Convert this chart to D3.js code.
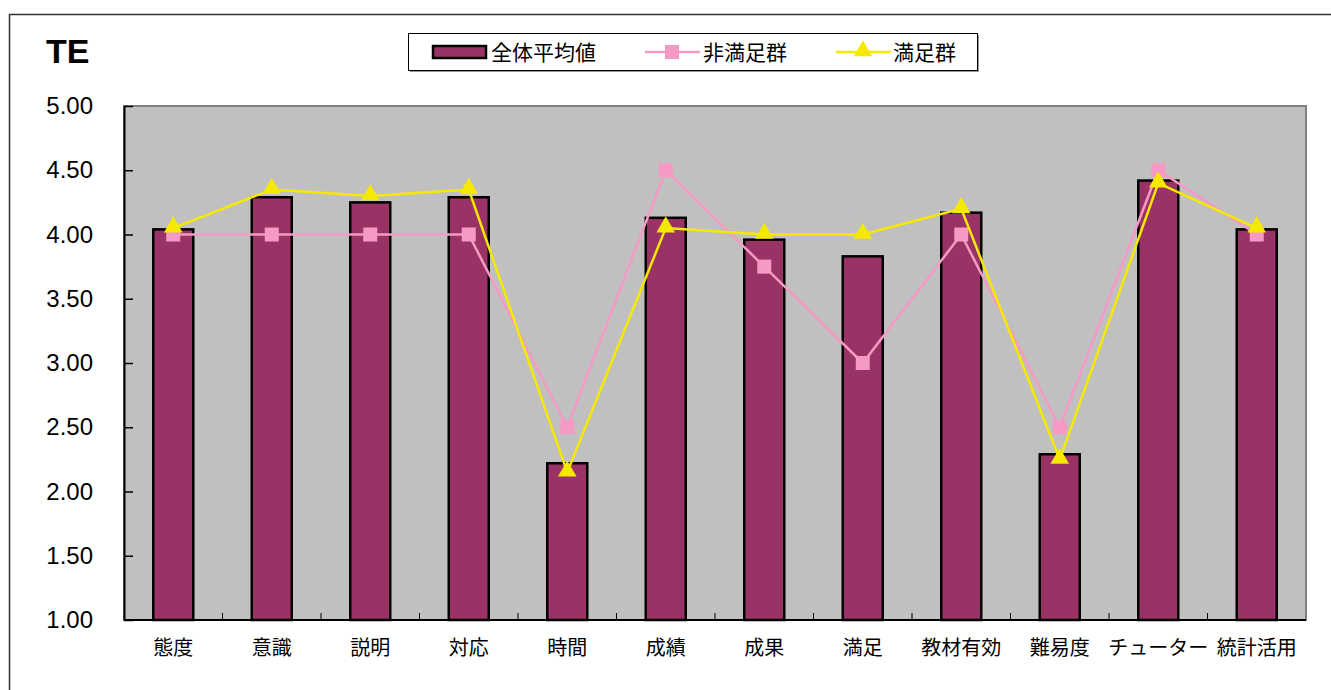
<!DOCTYPE html>
<meta charset="utf-8">
<style>
body { margin: 0; background: #fff; }
text { font-family: "Liberation Sans", Arial, "Noto Sans CJK JP", sans-serif; }
.jp { font-family: "Noto Sans CJK JP", sans-serif; }
</style>
<body>
<svg width="1331" height="690"></svg>
<script src="https://d3js.org/d3.v7.min.js"></script>
<script>
// data
var categories = ["態度", "意識", "説明", "対応", "時間", "成績", "成果", "満足", "教材有効", "難易度", "チューター", "統計活用"];
var average   = [4.04, 4.29, 4.25, 4.29, 2.22, 4.13, 3.96, 3.83, 4.17, 2.29, 4.42, 4.04];
var unsatisfied = [4.00, 4.00, 4.00, 4.00, 2.50, 4.50, 3.75, 3.00, 4.00, 2.50, 4.50, 4.00];
var satisfied = [4.05, 4.35, 4.30, 4.35, 2.15, 4.05, 4.00, 4.00, 4.20, 2.25, 4.40, 4.05];
var yTicks = [1.0, 1.5, 2.0, 2.5, 3.0, 3.5, 4.0, 4.5, 5.0];
var legendNames = ["全体平均値", "非満足群", "満足群"];

var barColor = "#993366", pink = "#f59ac4", yellow = "#f5e900";

var svg = d3.select("svg");

// outer frame
svg.append("rect")
  .attr("x", 9.5).attr("y", 14.5)
  .attr("width", 1340).attr("height", 700)
  .attr("fill", "none").attr("stroke", "#333").attr("stroke-width", 1.5);

var plotL = 124, plotR = 1306, plotT = 106, plotB = 620;

var x = d3.scaleBand().domain(categories).range([plotL, plotR]);
var y = d3.scaleLinear().domain([1, 5]).range([plotB, plotT]);

// plot area
svg.append("rect")
  .attr("x", plotL).attr("y", plotT)
  .attr("width", plotR - plotL).attr("height", plotB - plotT)
  .attr("fill", "#c0c0c0").attr("stroke", "#808080").attr("stroke-width", 2);

// title
svg.append("text")
  .attr("x", 46).attr("y", 63)
  .attr("font-size", 34).attr("font-weight", "bold")
  .text("TE");

// bars
var barW = 40;
svg.append("g").selectAll("rect")
  .data(average)
  .enter().append("rect")
    .attr("x", (d, i) => x(categories[i]) + x.bandwidth() / 2 - barW / 2)
    .attr("y", d => y(d))
    .attr("width", barW)
    .attr("height", d => y(1) - y(d))
    .attr("fill", barColor)
    .attr("stroke", "#000")
    .attr("stroke-width", 2.5);

// axes
var yAxis = svg.append("g")
  .attr("transform", "translate(" + plotL + ",0)")
  .call(d3.axisLeft(y).tickValues(yTicks).tickFormat(d3.format(".2f")).tickSizeInner(-9).tickSizeOuter(0));
yAxis.select(".domain").attr("stroke", "#000").attr("stroke-width", 2);
yAxis.selectAll(".tick line").attr("stroke", "#000").attr("stroke-width", 1.5);
yAxis.selectAll("text")
  .attr("x", -31).attr("font-size", 24).attr("fill", "#000")
  .attr("font-family", "Liberation Sans, Arial, sans-serif");

// x axis baseline with ticks on category boundaries
var xAxis = svg.append("g").attr("transform", "translate(0," + plotB + ")");
xAxis.append("line")
  .attr("x1", plotL).attr("x2", plotR)
  .attr("stroke", "#000").attr("stroke-width", 2);
xAxis.selectAll(".bt")
  .data(categories.slice(1))
  .enter().append("line")
    .attr("x1", d => x(d)).attr("x2", d => x(d))
    .attr("y1", 0).attr("y2", -7)
    .attr("stroke", "#000").attr("stroke-width", 1);
xAxis.selectAll(".lab")
  .data(categories)
  .enter().append("text")
    .attr("class", "jp")
    .attr("x", d => x(d) + x.bandwidth() / 2)
    .attr("y", 35)
    .attr("text-anchor", "middle")
    .attr("font-size", 20)
    .text(d => d);

var cx = i => x(categories[i]) + x.bandwidth() / 2;

// pink line with squares
svg.append("path")
  .datum(unsatisfied)
  .attr("fill", "none").attr("stroke", pink).attr("stroke-width", 2.5)
  .attr("d", d3.line().x((d, i) => cx(i)).y(d => y(d)));
svg.append("g").selectAll("rect")
  .data(unsatisfied)
  .enter().append("rect")
    .attr("x", (d, i) => cx(i) - 7)
    .attr("y", d => y(d) - 7)
    .attr("width", 14).attr("height", 14)
    .attr("fill", pink);

// yellow line with triangles
svg.append("path")
  .datum(satisfied)
  .attr("fill", "none").attr("stroke", yellow).attr("stroke-width", 2.5)
  .attr("d", d3.line().x((d, i) => cx(i)).y(d => y(d)));
var tri = d3.symbol().type(d3.symbolTriangle).size(150);
svg.append("g").selectAll("path")
  .data(satisfied)
  .enter().append("path")
    .attr("transform", (d, i) => "translate(" + cx(i) + "," + (y(d) - 1) + ")")
    .attr("d", tri)
    .attr("fill", yellow);

// legend
var lg = svg.append("g");
lg.append("rect")
  .attr("x", 410).attr("y", 35).attr("width", 569).attr("height", 37)
  .attr("fill", "#999");
lg.append("rect")
  .attr("x", 408.5).attr("y", 33.5).attr("width", 569).attr("height", 37)
  .attr("fill", "#fff").attr("stroke", "#000").attr("stroke-width", 1);
lg.append("rect")
  .attr("x", 433).attr("y", 46).attr("width", 53).attr("height", 12)
  .attr("fill", barColor).attr("stroke", "#000").attr("stroke-width", 2.5);
lg.append("line")
  .attr("x1", 645).attr("x2", 700).attr("y1", 52).attr("y2", 52)
  .attr("stroke", pink).attr("stroke-width", 2.5);
lg.append("rect")
  .attr("x", 665).attr("y", 45).attr("width", 14).attr("height", 14)
  .attr("fill", pink);
lg.append("line")
  .attr("x1", 836).attr("x2", 891).attr("y1", 52).attr("y2", 52)
  .attr("stroke", yellow).attr("stroke-width", 2.5);
lg.append("path")
  .attr("transform", "translate(863,51)")
  .attr("d", tri).attr("fill", yellow);
var legendX = [491, 703, 893];
lg.selectAll(".lt")
  .data(legendNames)
  .enter().append("text")
    .attr("class", "jp")
    .attr("x", (d, i) => legendX[i])
    .attr("y", 60)
    .attr("font-size", 21)
    .text(d => d);
</script>
</body>
